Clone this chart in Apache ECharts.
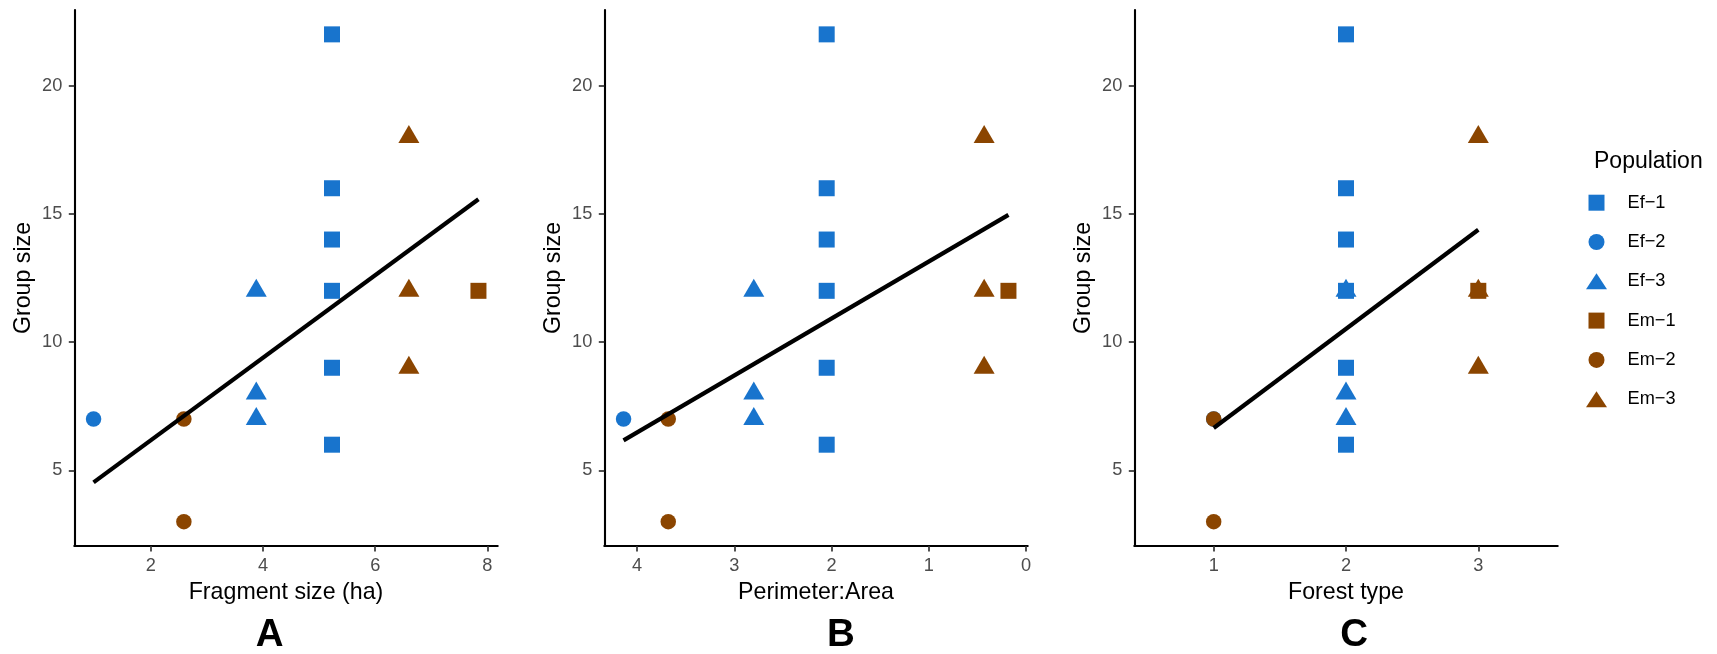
<!DOCTYPE html>
<html>
<head>
<meta charset="utf-8">
<title>Group size by fragment, perimeter:area and forest type</title>
<script src="https://cdn.jsdelivr.net/npm/echarts@6/dist/echarts.min.js"></script>
<style>
  html, body { margin: 0; padding: 0; background: #ffffff; }
  #chart { width: 1717px; height: 654px; }
</style>
</head>
<body>
<div id="chart"></div>
<script>
// Populations, in legend order
const popNames = ['Ef\u22121', 'Ef\u22122', 'Ef\u22123', 'Em\u22121', 'Em\u22122', 'Em\u22123'];

// Group sizes observed in each population
const ef1Size = [22, 16, 14, 12, 9, 6];
const ef2Size = [7];
const ef3Size = [12, 8, 7];
const em1Size = [12];
const em2Size = [7, 3];
const em3Size = [18, 12, 9];

// Habitat predictors, one value per population (same order as popNames)
const fragmentSize = [5.23, 0.98, 3.88, 7.84, 2.59, 6.60];   // ha
const perimeterArea = [2.05, 4.14, 2.80, 0.18, 3.68, 0.43];
const forestType = [2, 1, 2, 3, 1, 3];

// Linear fit end points for each panel
const fitFragment = [[0.98, 4.53], [7.84, 15.57]];
const fitPerimeter = [[4.14, 6.17], [0.18, 14.96]];
const fitForest = [[1, 6.65], [3, 14.38]];

// Tick values
const groupTicks = [5, 10, 15, 20];
const fragmentTicks = [2, 4, 6, 8];
const perimeterTicks = [0, 1, 2, 3, 4];
const forestTicks = [1, 2, 3];

// Axis titles and panel letters
const xTitles = ['Fragment size (ha)', 'Perimeter:Area', 'Forest type'];
const yTitle = 'Group size';
const panelLetters = ['A', 'B', 'C'];
const legendTitle = 'Population';

// ---- styling ----
const FONT = '"Liberation Sans", Arial, Helvetica, sans-serif';
const BLUE = '#1874CD';
const BROWN = '#8B4500';
const popColors = [BLUE, BLUE, BLUE, BROWN, BROWN, BROWN];
const popShapes = ['square', 'circle', 'triangle', 'square', 'circle', 'triangle'];

const gridLefts = [74.3, 604.3, 1134.3];
const gridWidth = 423.4;
const gridTop = 10;
const gridHeight = 536;
const letterX = [269.7, 840.8, 1354.2];

const sizesByPop = [ef1Size, ef2Size, ef3Size, em1Size, em2Size, em3Size];
const xByPanel = [fragmentSize, perimeterArea, forestType];
const fits = [fitFragment, fitPerimeter, fitForest];
const xTicks = [fragmentTicks, perimeterTicks, forestTicks];

// ggplot-style continuous expansion (5% of the data range)
function expand5(vals) {
  const lo = Math.min(...vals), hi = Math.max(...vals);
  const pad = (hi - lo) * 0.05;
  return [lo - pad, hi + pad];
}
const allSizes = [].concat(...sizesByPop);
const yRange = expand5(allSizes);
const xRanges = [
  expand5(fragmentSize),
  expand5(perimeterArea),
  [Math.min(...forestType) - 0.6, Math.max(...forestType) + 0.6]
];

const symbolFor = {
  square: { symbol: 'rect', symbolSize: 16, symbolOffset: [0, 0], z: 3 },
  circle: { symbol: 'circle', symbolSize: 15.5, symbolOffset: [0, 0], z: 3 },
  triangle: { symbol: 'triangle', symbolSize: [21, 18], symbolOffset: [0, -3], z: 2 }
};
const legendIconFor = {
  square: 'path://M0,0H16V16H0Z',
  circle: 'circle',
  triangle: 'path://M10.5,0L21,16L0,16Z'
};

const axisLabelStyle = { color: '#4D4D4D', fontSize: 18.2, fontFamily: FONT };

const grids = [], xAxes = [], yAxes = [], series = [];
for (let p = 0; p < 3; p++) {
  grids.push({ left: gridLefts[p], top: gridTop, width: gridWidth, height: gridHeight, containLabel: false });
  xAxes.push({
    type: 'value', gridIndex: p,
    min: xRanges[p][0], max: xRanges[p][1],
    inverse: p === 1,
    name: xTitles[p], nameLocation: 'middle', nameGap: 35,
    nameTextStyle: { color: '#000', fontSize: 23.2, fontFamily: FONT },
    axisLine: { show: true, onZero: false, lineStyle: { color: '#000', width: 2.1 } },
    axisTick: { show: true, length: 5.5, lineStyle: { color: '#333', width: 1.7 }, customValues: xTicks[p] },
    axisLabel: Object.assign({ margin: 10.5, customValues: xTicks[p] }, axisLabelStyle),
    splitLine: { show: false }
  });
  yAxes.push({
    type: 'value', gridIndex: p,
    min: yRange[0], max: yRange[1],
    name: yTitle, nameLocation: 'middle', nameGap: 39, nameRotate: 90,
    nameTextStyle: { color: '#000', fontSize: 23.2, fontFamily: FONT },
    axisLine: { show: true, onZero: false, lineStyle: { color: '#000', width: 2.1 } },
    axisTick: { show: true, length: 5.5, lineStyle: { color: '#333', width: 1.7 }, customValues: groupTicks },
    axisLabel: Object.assign({ margin: 12, customValues: groupTicks }, axisLabelStyle),
    splitLine: { show: false }
  });

  for (let i = 0; i < popNames.length; i++) {
    const s = symbolFor[popShapes[i]];
    series.push({
      type: 'scatter', name: popNames[i],
      xAxisIndex: p, yAxisIndex: p,
      data: sizesByPop[i].map(y => [xByPanel[p][i], y]),
      symbol: s.symbol, symbolSize: s.symbolSize, symbolOffset: s.symbolOffset,
      z: s.z,
      itemStyle: { color: popColors[i], opacity: 1 },
      emphasis: { disabled: true }
    });
  }

  series.push({
    type: 'line', name: 'fit' + panelLetters[p],
    xAxisIndex: p, yAxisIndex: p,
    data: fits[p],
    symbol: 'none', silent: true, z: 5,
    lineStyle: { color: '#000', width: 4.2, cap: 'butt' },
    itemStyle: { color: '#000' }
  });
}

const graphics = panelLetters.map((t, p) => ({
  type: 'text', x: letterX[p], y: 635,
  style: { text: t, fontSize: 38.5, fontWeight: 'bold', fontFamily: FONT, fill: '#000',
           align: 'center', verticalAlign: 'middle' }
}));
graphics.push({
  type: 'text', x: 1594, y: 161.5,
  style: { text: legendTitle, fontSize: 23, fontFamily: FONT, fill: '#000',
           align: 'left', verticalAlign: 'middle' }
});

const chart = echarts.init(document.getElementById('chart'), null, { renderer: 'canvas' });
chart.setOption({
  animation: false,
  backgroundColor: '#ffffff',
  grid: grids,
  xAxis: xAxes,
  yAxis: yAxes,
  legend: {
    orient: 'vertical',
    left: 1586, top: 193.7,
    itemWidth: 52, itemHeight: 16, itemGap: 21.3,
    selectedMode: false,
    padding: 0,
    textStyle: { color: '#000', fontSize: 18.2, fontFamily: FONT, lineHeight: 16 },
    data: popNames.map((n, i) => ({ name: n, icon: legendIconFor[popShapes[i]] }))
  },
  graphic: graphics,
  series: series
});
</script>
</body>
</html>
